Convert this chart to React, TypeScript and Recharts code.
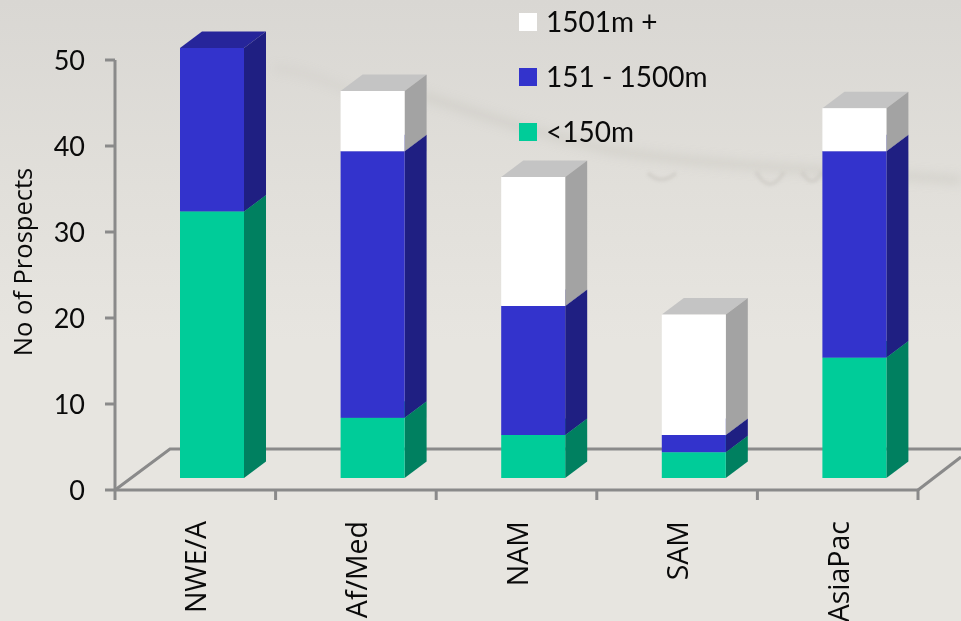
import { BarChart, Bar, XAxis, YAxis, Legend } from 'recharts'

const regions = ['NWE/A', 'Af/Med', 'NAM', 'SAM', 'AsiaPac']
const shallow = [31, 7, 5, 3, 14]
const mid = [19, 31, 15, 2, 24]
const deep = [0, 7, 15, 14, 5]
const yTicks = [0, 10, 20, 30, 40, 50]

const chartData = regions.map((region, i) => ({
  region,
  shallow: shallow[i],
  mid: mid[i],
  deep: deep[i],
}))

const WIDTH = 961
const HEIGHT = 621
const PLOT = { left: 115, top: 60, right: 918, bottom: 490 }
const BAND = (PLOT.right - PLOT.left) / regions.length
const AXIS_COLOR = '#8a8a8a'
const AXIS_WIDTH = 3
const LABEL_FONT = '"Open Sans", sans-serif'
const NUM_FONT = 'Lato, sans-serif'

// bars sit on the 3D floor, not on the axis line
const SHIFT_X = 17
const SHIFT_Y = -12
const DEPTH_X = 22
const DEPTH_Y = 16.5

function Box3D({ x, y, width, height, fill, side, top }: any) {
  if (!height || height <= 0) return null
  const l = x + SHIFT_X
  const t = y + SHIFT_Y
  const r = l + width
  const b = t + height
  return (
    <g>
      <polygon
        points={`${l},${t} ${l + DEPTH_X},${t - DEPTH_Y} ${r + DEPTH_X},${t - DEPTH_Y} ${r},${t}`}
        fill={top}
      />
      <polygon
        points={`${r},${t} ${r + DEPTH_X},${t - DEPTH_Y} ${r + DEPTH_X},${b - DEPTH_Y} ${r},${b}`}
        fill={side}
      />
      <rect x={l} y={t} width={width} height={height} fill={fill} />
    </g>
  )
}

function Floor() {
  const backY = 449
  return (
    <g stroke={AXIS_COLOR} strokeWidth={AXIS_WIDTH} fill="none">
      <polyline points={`${PLOT.left},${PLOT.bottom} 170,${backY} ${WIDTH},${backY}`} />
      <line x1={PLOT.right} y1={PLOT.bottom} x2={WIDTH} y2={457} />
    </g>
  )
}

function RegionTick({ x, payload, index }: any) {
  const left = x - BAND / 2
  return (
    <g>
      <line x1={left} y1={PLOT.bottom} x2={left} y2={PLOT.bottom + 10} stroke={AXIS_COLOR} strokeWidth={AXIS_WIDTH} />
      {index === regions.length - 1 && (
        <line x1={PLOT.right} y1={PLOT.bottom} x2={PLOT.right} y2={PLOT.bottom + 10} stroke={AXIS_COLOR} strokeWidth={AXIS_WIDTH} />
      )}
      <text
        transform={`translate(${x + 11},521) rotate(-90)`}
        textAnchor="end"
        fontFamily={LABEL_FONT}
        fontSize={28.5}
        fill="#0a0a0a"
      >
        {payload.value}
      </text>
    </g>
  )
}

function LegendBox({ payload }: any) {
  return (
    <div>
      {(payload || []).map((item: any) => (
        <div key={item.value} style={{ display: 'flex', alignItems: 'center', height: 55 }}>
          <span style={{ width: 18, height: 18, background: item.color, marginRight: 9 }} />
          <span style={{ fontFamily: NUM_FONT, fontSize: 28, color: '#0a0a0a', position: 'relative', top: -1 }}>
            {item.value}
          </span>
        </div>
      ))}
    </div>
  )
}

function Backdrop() {
  return (
    <svg width={WIDTH} height={HEIGHT} style={{ position: 'absolute', left: 0, top: 0 }}>
      <defs>
        <linearGradient id="bg" x1="0" y1="0" x2="0" y2="1">
          <stop offset="0" stopColor="#d9d7d3" />
          <stop offset="0.3" stopColor="#e1dfda" />
          <stop offset="0.55" stopColor="#e7e5e0" />
          <stop offset="1" stopColor="#e7e5e0" />
        </linearGradient>
        <filter id="soft" x="-10%" y="-100%" width="120%" height="300%">
          <feGaussianBlur stdDeviation="5" />
        </filter>
        <filter id="drop" x="-50%" y="-50%" width="200%" height="200%">
          <feGaussianBlur stdDeviation="1.5" />
        </filter>
      </defs>
      <rect width={WIDTH} height={HEIGHT} fill="url(#bg)" />
      <g filter="url(#soft)" fill="none" stroke="#c6c3bd">
        <path d="M275 68 C 330 75, 350 100, 400 100" strokeWidth={6} opacity={0.3} />
        <path d="M420 95 C 470 110, 520 130, 610 150 C 700 165, 800 168, 961 180" strokeWidth={9} opacity={0.42} />
      </g>
      <g filter="url(#drop)" fill="none" stroke="#c8c5bf" strokeWidth={4} opacity={0.5}>
        <path d="M648 173 Q 661 186, 676 173" />
        <path d="M756 172 Q 770 196, 784 172" />
        <path d="M802 172 Q 812 190, 822 172" />
      </g>
    </svg>
  )
}

export default function App() {
  return (
    <div style={{ position: 'fixed', left: 0, top: 0, width: WIDTH, height: HEIGHT, overflow: 'hidden' }}>
      <Backdrop />
      <div style={{ position: 'absolute', left: 0, top: 0 }}>
        <BarChart
          width={WIDTH}
          height={HEIGHT}
          data={chartData}
          margin={{ top: PLOT.top, right: WIDTH - PLOT.right, bottom: 0, left: 0 }}
          barSize={64}
        >
          <Floor />
          <XAxis
            dataKey="region"
            interval={0}
            height={HEIGHT - PLOT.bottom}
            tick={<RegionTick />}
            tickLine={false}
            axisLine={{ stroke: AXIS_COLOR, strokeWidth: AXIS_WIDTH }}
          />
          <YAxis
            width={PLOT.left}
            domain={[0, 50]}
            ticks={yTicks}
            interval={0}
            tickSize={10}
            tickMargin={20}
            tick={{ fontFamily: NUM_FONT, fontSize: 27, fill: '#0a0a0a' }}
            tickLine={{ stroke: AXIS_COLOR, strokeWidth: AXIS_WIDTH }}
            axisLine={{ stroke: AXIS_COLOR, strokeWidth: AXIS_WIDTH }}
            label={{
              value: 'No of Prospects',
              angle: -90,
              position: { x: 32, y: 202 },
              style: { fontFamily: LABEL_FONT, fontSize: 25.5, fill: '#0a0a0a', textAnchor: 'middle' },
            }}
          />
          <Legend
            content={<LegendBox />}
            layout="vertical"
            align="center"
            verticalAlign="middle"
            wrapperStyle={{ position: 'absolute', left: 519, top: -6, width: 220 }}
          />
          <Bar
            dataKey="shallow"
            name="<150m"
            stackId="a"
            fill="#00cc99"
            isAnimationActive={false}
            shape={(p: any) => <Box3D {...p} fill="#00cc99" side="#008060" top="#00a57c" />}
          />
          <Bar
            dataKey="mid"
            name="151 - 1500m"
            stackId="a"
            fill="#3333cc"
            isAnimationActive={false}
            shape={(p: any) => <Box3D {...p} fill="#3333cc" side="#1f1f82" top="#26259a" />}
          />
          <Bar
            dataKey="deep"
            name="1501m +"
            stackId="a"
            fill="#ffffff"
            isAnimationActive={false}
            shape={(p: any) => <Box3D {...p} fill="#ffffff" side="#a3a3a3" top="#c4c4c4" />}
          />
        </BarChart>
      </div>
    </div>
  )
}
